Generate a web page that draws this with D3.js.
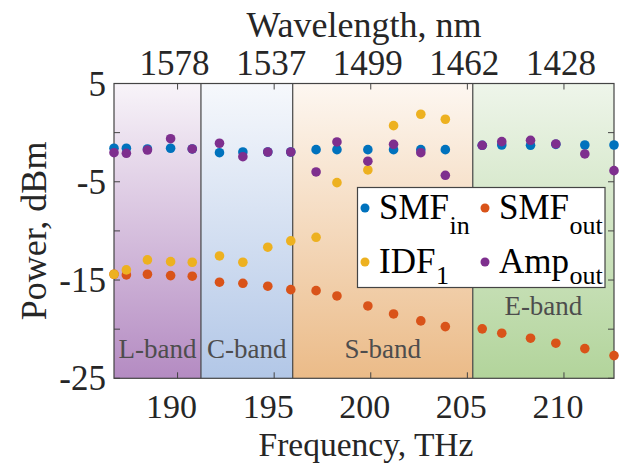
<!DOCTYPE html>
<html><head><meta charset="utf-8">
<script src="https://cdn.jsdelivr.net/npm/d3@7"></script>
<style>
body{margin:0;background:#fff;}
svg text{font-family:"Liberation Serif","Times New Roman",serif;}
</style></head>
<body><svg id="c" width="621" height="463"></svg>
<script>
// ---- data ----
const freqTHz = [186.71,187.35,188.44,189.64,190.76,192.17,193.38,194.67,195.86,197.17,198.25,199.85,201.18,202.59,203.86,205.77,206.78,208.27,209.58,211.08,212.59];
const smfIn  = [-1.59,-1.59,-1.66,-1.59,-1.66,-2.04,-1.97,-1.97,-1.97,-1.73,-1.73,-1.73,-1.73,-1.73,-1.73,-1.29,-1.26,-1.29,-1.19,-1.26,-1.26];
const smfOut = [-14.41,-14.48,-14.41,-14.55,-14.61,-15.22,-15.33,-15.63,-15.98,-16.08,-16.62,-17.64,-18.45,-19.16,-19.74,-19.97,-20.41,-20.92,-21.43,-21.98,-22.69];
const idf1   = [-14.41,-13.97,-12.95,-13.13,-13.19,-12.55,-13.19,-11.66,-11.02,-10.65,-5.09,-3.80,0.71,1.87,1.36];
const ampOut = [-2.04,-2.10,-1.77,-0.62,-1.66,-1.08,-2.45,-1.97,-1.97,-4.00,-0.95,-2.91,-1.19,-2.04,-4.34,-1.29,-0.92,-0.78,-1.15,-2.17,-3.87];
const bandEdges = [186.71,191.21,195.96,205.28,212.59];
const bandNames = ["L-band","C-band","S-band","E-band"];
const freqTicks = [190,195,200,205,210];
const wavelengthLabels = ["1578","1537","1499","1462","1428"];
const yTicks = [-25,-20,-15,-10,-5,0,5];
const yTickLabels = [-25,-15,-5,5];
const seriesNames = [["SMF","in"],["SMF","out"],["IDF","1"],["Amp","out"]];

// ---- layout ----
const svg = d3.select("#c");
const L=114, R=614, T=83.5, B=378.3;
const x = d3.scaleLinear().domain([freqTHz[0], freqTHz[freqTHz.length-1]]).range([L,R]);
const y = d3.scaleLinear().domain([-25,5]).range([B,T]);
const colors = ["#0072BD","#D95319","#EDB120","#7E2F8E"];
const bandTop = ["#f8f4f9","#f6f8fc","#fdf7f1","#eef5ea"];
const bandBot = ["#b48bc2","#b2c7e7","#ebbb88","#b2d49b"];

const defs = svg.append("defs");
bandNames.forEach((n,i)=>{
  const g = defs.append("linearGradient").attr("id","g"+i).attr("x1",0).attr("y1",0).attr("x2",0).attr("y2",1);
  g.append("stop").attr("offset","0%").attr("stop-color",bandTop[i]);
  g.append("stop").attr("offset","100%").attr("stop-color",bandBot[i]);
});

// bands
bandNames.forEach((n,i)=>{
  svg.append("rect").attr("x",x(bandEdges[i])).attr("y",T)
    .attr("width",x(bandEdges[i+1])-x(bandEdges[i])).attr("height",B-T)
    .attr("fill","url(#g"+i+")");
});
// band separators
svg.selectAll("line.sep").data(bandEdges.slice(1,-1)).enter().append("line")
  .attr("x1",d=>x(d)).attr("x2",d=>x(d)).attr("y1",T).attr("y2",B)
  .attr("stroke","#444").attr("stroke-width",1.2);
// band labels
bandNames.forEach((n,i)=>{
  svg.append("text").attr("x",(x(bandEdges[i])+x(bandEdges[i+1]))/2)
    .attr("y", i===3 ? y(-18.6) : y(-22.9))
    .attr("text-anchor","middle").attr("font-size",27).attr("fill","#4d4d4d").text(n);
});

// axes
const axCol="#262626";
const tl=6;
const gA = svg.append("g");
gA.append("rect").attr("x",L).attr("y",T).attr("width",R-L).attr("height",B-T)
  .attr("fill","none").attr("stroke","#444").attr("stroke-width",1.2);
freqTicks.forEach((f,i)=>{
  gA.append("line").attr("x1",x(f)).attr("x2",x(f)).attr("y1",B).attr("y2",B-tl).attr("stroke","#444");
  gA.append("line").attr("x1",x(f)).attr("x2",x(f)).attr("y1",T).attr("y2",T+tl).attr("stroke","#444");
  gA.append("text").attr("x",x(f)-6).attr("y",417.5).attr("text-anchor","middle")
    .attr("font-size",34).attr("fill",axCol).text(f);
  gA.append("text").attr("x",x(f)-3).attr("y",75).attr("text-anchor","middle")
    .attr("font-size",35).attr("fill",axCol).text(wavelengthLabels[i]);
});
yTicks.forEach(v=>{
  gA.append("line").attr("x1",L).attr("x2",L+tl).attr("y1",y(v)).attr("y2",y(v)).attr("stroke","#444");
  gA.append("line").attr("x1",R).attr("x2",R-tl).attr("y1",y(v)).attr("y2",y(v)).attr("stroke","#444");
});
yTickLabels.forEach(v=>{
  gA.append("text").attr("x",106).attr("y",y(v)+12).attr("text-anchor","end")
    .attr("font-size",35).attr("fill",axCol).text(v);
});
svg.append("text").attr("x",(L+R)/2+2).attr("y",455.5).attr("text-anchor","middle")
  .attr("font-size",33.5).attr("fill",axCol).text("Frequency, THz");
svg.append("text").attr("x",(L+R)/2).attr("y",37).attr("text-anchor","middle")
  .attr("font-size",36).attr("fill",axCol).text("Wavelength, nm");
svg.append("text").attr("transform",`translate(46,${(T+B)/2}) rotate(-90)`).attr("text-anchor","middle")
  .attr("font-size",36).attr("fill",axCol).text("Power, dBm");

// points
const series = [smfIn, smfOut, idf1, ampOut];
series.forEach((s,k)=>{
  svg.append("g").selectAll("circle").data(s).enter().append("circle")
    .attr("cx",(d,i)=>x(freqTHz[i])).attr("cy",d=>y(d)).attr("r",4.8).attr("fill",colors[k]);
});

// legend
const lg = svg.append("g");
lg.append("rect").attr("x",357.5).attr("y",187.5).attr("width",247.5).attr("height",100)
  .attr("fill","#fff").attr("stroke","#444").attr("stroke-width",1.2);
const colX=[365,485], rowY=[208,262], subDy=[14.5,11];
seriesNames.forEach((nm,k)=>{
  const c=k%2, r=Math.floor(k/2);
  lg.append("circle").attr("cx",colX[c]).attr("cy",rowY[r]).attr("r",4.5).attr("fill",colors[k]);
  const t = lg.append("text").attr("x",colX[c]+14).attr("y",rowY[r]+11).attr("font-size",35).attr("fill","#000");
  t.append("tspan").text(nm[0]);
  t.append("tspan").attr("font-size",26).attr("dy",subDy[r]).attr("dx",0.5).text(nm[1]);
});
</script></body></html>
